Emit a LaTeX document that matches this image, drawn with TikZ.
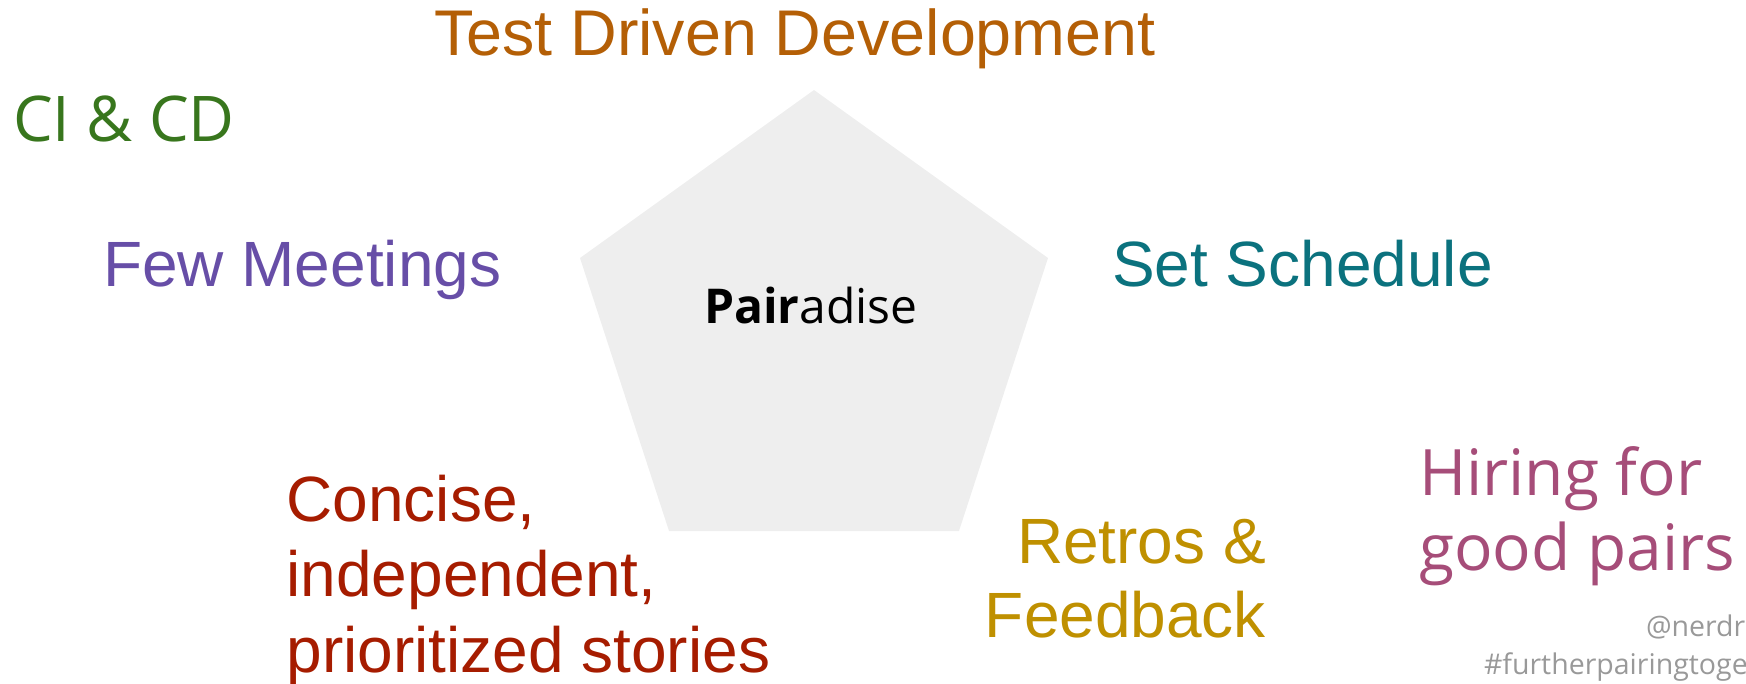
\documentclass[tikz,border=0pt]{standalone}
\usepackage{fontspec}
\setmainfont{Liberation Sans}
\newfontfamily\opensans{Open Sans}
\definecolor{pentfill}{HTML}{EEEEEE}
\definecolor{tddcol}{HTML}{B45F06}
\definecolor{cicdcol}{HTML}{38761D}
\definecolor{fewcol}{HTML}{674EA7}
\definecolor{setcol}{HTML}{0B727E}
\definecolor{storycol}{HTML}{A61C00}
\definecolor{retrocol}{HTML}{BF9000}
\definecolor{hirecol}{HTML}{A64D79}
\definecolor{graycol}{HTML}{999999}
\begin{document}
\begin{tikzpicture}[x=1pt,y=-1pt,
  lbl/.style={inner sep=0pt, outer sep=0pt},
  arialbig/.style={lbl, font=\fontsize{64}{75.5}\selectfont},
  osbig/.style={lbl, font=\opensans\fontsize{64}{75}\selectfont}]
\clip (0,0) rectangle (1746,684);
\fill[pentfill] (814,90) -- (1048,258) -- (959,531) -- (669,531) -- (580,258) -- cycle;
\node[lbl, anchor=base west, font=\opensans\fontsize{48}{58}\selectfont] (pair) at (704,324) {\textbf{Pair}adise};
\node[lbl, anchor=base west, font=\fontsize{64.6}{76}\selectfont, text=tddcol] (tdd) at (434,56) {Test Driven Development};
\node[lbl, anchor=base west, font=\opensans\fontsize{63}{75}\selectfont, text=cicdcol] (cicd) at (13,142) {CI \& CD};
\node[arialbig, anchor=base west, text=fewcol] (few) at (103,287) {Few Meetings};
\node[arialbig, anchor=base west, text=setcol] (set) at (1112,287) {Set Schedule};
\node[arialbig, anchor=base west, align=left, text=storycol] (story) at (286.5,672) {Concise,\\independent,\\prioritized stories};
\node[arialbig, anchor=base east, align=right, font=\fontsize{64}{74}\selectfont, text=retrocol] (retro) at (1266,637) {Retros \&\\Feedback};
\node[osbig, anchor=base west, align=left, text=hirecol] (hire) at (1419,570) {Hiring for\\good pairs};
\node[lbl, anchor=base west, font=\opensans\fontsize{28.5}{38}\selectfont, text=graycol] (handle) at (1646,636) {@nerdr};
\node[lbl, anchor=base west, font=\opensans\fontsize{28.5}{38}\selectfont, text=graycol] (tag) at (1484,674) {\#furtherpairingtoge};
\end{tikzpicture}
\end{document}
